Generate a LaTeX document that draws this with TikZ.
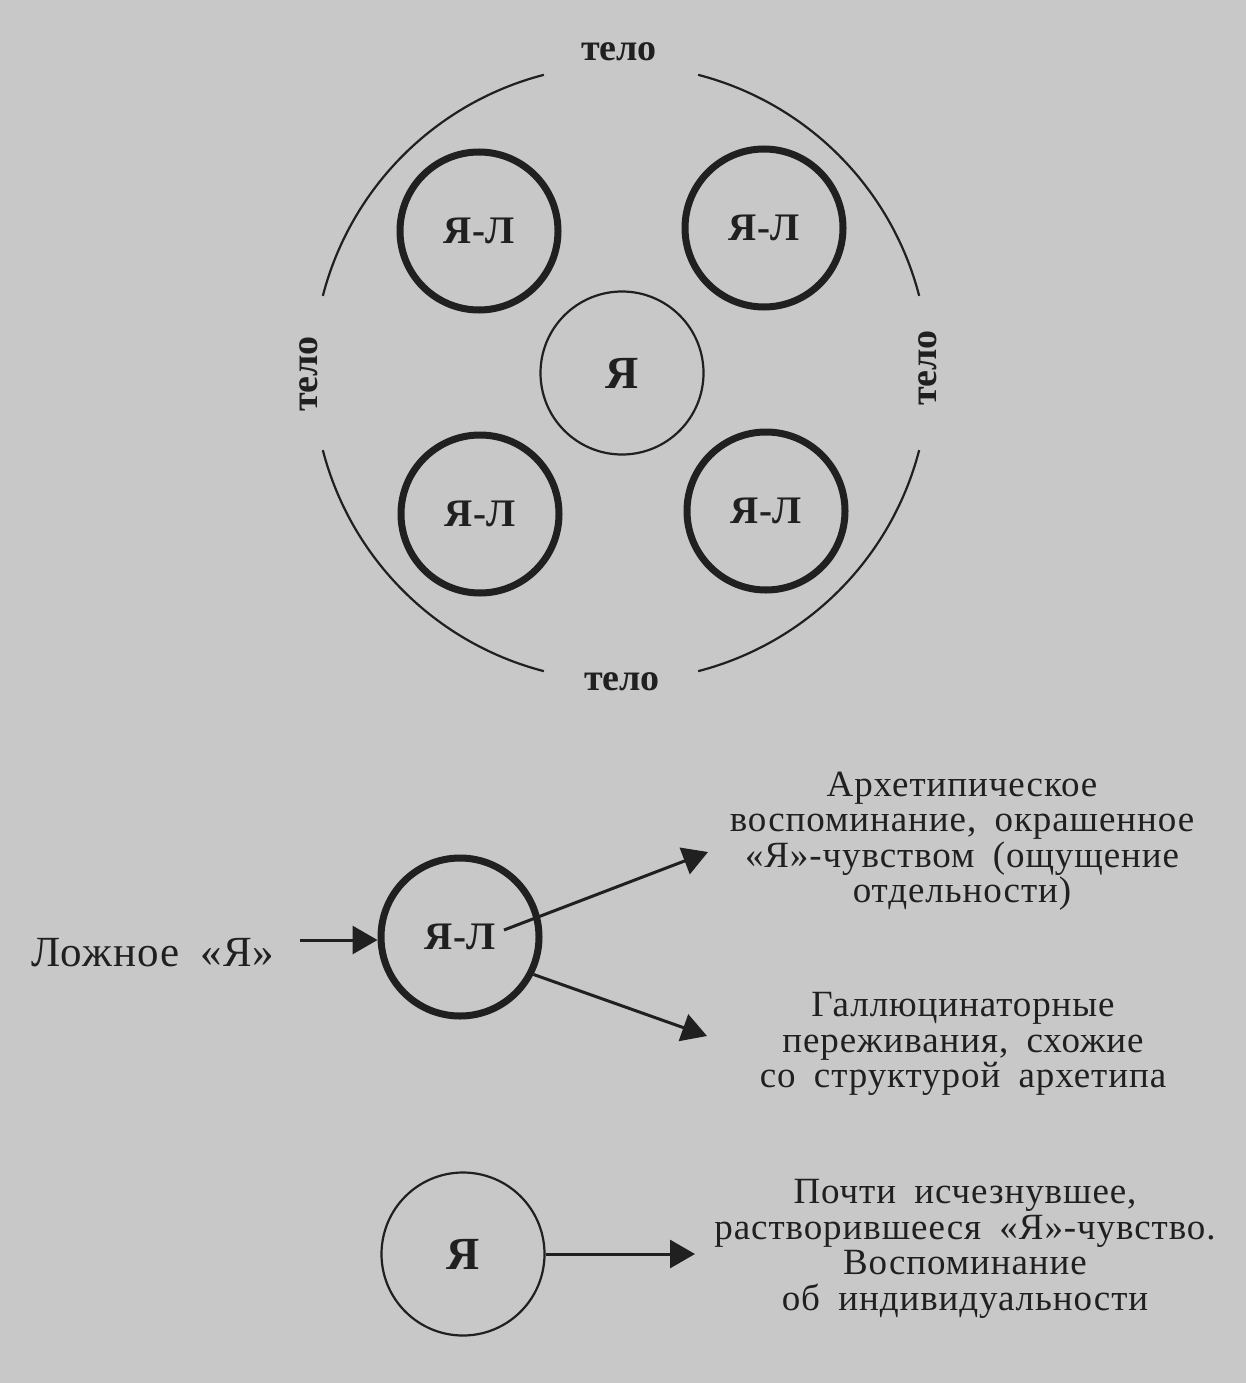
\documentclass[tikz,border=0pt]{standalone}
\usepackage{fontspec}
\setmainfont{Liberation Serif}
\newfontfamily\notefont{Liberation Serif}[LetterSpace=2.5,WordSpace=1.8]
\usetikzlibrary{arrows.meta}
\definecolor{paper}{RGB}{200,200,200}
\definecolor{ink}{RGB}{32,32,32}
\begin{document}
\begin{tikzpicture}[x=1pt,y=-1pt,
  thickring/.style={circle,draw=ink,line width=7pt,minimum size=158pt,inner sep=0pt,
    text=ink,font=\fontsize{39}{40}\selectfont\bfseries},
  thinring/.style={circle,draw=ink,line width=2.2pt,minimum size=163pt,inner sep=0pt,
    text=ink,font=\fontsize{46}{46}\selectfont\bfseries},
  bodylabel/.style={text=ink,inner sep=0pt,font=\fontsize{38}{38}\selectfont\bfseries},
  note/.style={text=ink,inner sep=0pt,align=center,font=\notefont\fontsize{37}{35.5}\selectfont},
  arr/.style={draw=ink,line width=3pt,-{Triangle[length=25pt,width=28pt]}},
  outer/.style={draw=ink,line width=2.2pt}]
\fill[paper] (0,0) rectangle (1246,1383);
\useasboundingbox (0,0) rectangle (1246,1383);
% top figure
\coordinate (oc) at (621,373);
\draw[outer] (oc) ++(14.5:308) arc[start angle=14.5,end angle=75.5,radius=308];
\draw[outer] (oc) ++(104.5:308) arc[start angle=104.5,end angle=165.5,radius=308];
\draw[outer] (oc) ++(194.5:308) arc[start angle=194.5,end angle=255.5,radius=308];
\draw[outer] (oc) ++(284.5:308) arc[start angle=284.5,end angle=345.5,radius=308];
\node[bodylabel] (tTop) at (619,52) {тело};
\node[bodylabel] (tBot) at (622,682) {тело};
\node[bodylabel,rotate=90] (tLeft) at (309,374) {тело};
\node[bodylabel,rotate=90] (tRight) at (928,368) {тело};
\node[thickring] (yl1) at (479,231) {Я-Л};
\node[thickring] (yl2t) at (764,228) {Я-Л};
\node[thickring] (yl3) at (480,514) {Я-Л};
\node[thickring] (yl4) at (766,511) {Я-Л};
\node[thinring] (ya) at (622,373) {Я};
% middle figure
\node[text=ink,inner sep=0pt,anchor=base,font=\notefont\fontsize{43}{43}\selectfont] (lozh) at (153,966) {Ложное «Я»};
\node[thickring] (yl) at (460,937) {Я-Л};
\coordinate (s0) at (300,940);
\draw[arr] (s0) -- (s0 -| yl.west);
\coordinate (s1) at (504,930);
\coordinate (t1) at (708,852);
\draw[arr] (s1) -- (t1);
\coordinate (t2) at (707,1036);
\draw[arr] (yl.-27) -- (t2);
\node[note] (n1) at (962,841) {Архетипическое\\воспоминание, окрашенное\\«Я»-чувством (ощущение\\отдельности)};
\node[note] (n2) at (963,1044) {Галлюцинаторные\\переживания, схожие\\со структурой архетипа};
% bottom figure
\node[thinring] (yb) at (463,1254) {Я};
\coordinate (t3) at (695,1254);
\draw[arr] (yb.east) -- (t3);
\node[note] (n3) at (965,1249) {Почти исчезнувшее,\\растворившееся «Я»-чувство.\\Воспоминание\\об индивидуальности};
\end{tikzpicture}
\end{document}
